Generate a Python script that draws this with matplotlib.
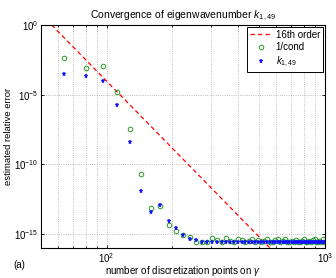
import matplotlib.pyplot as plt
from matplotlib.ticker import FixedLocator, LogLocator, NullLocator
import numpy as np

plt.rcParams['font.family'] = ['Liberation Sans', 'DejaVu Sans']
plt.rcParams['mathtext.fontset'] = 'custom'
plt.rcParams['mathtext.rm'] = 'Liberation Sans'
plt.rcParams['mathtext.it'] = 'Liberation Sans:italic'

# number of discretization points
N = [64, 80, 96, 112, 128, 144, 160, 176, 192, 208, 224, 240, 256, 272, 288,
     304, 320, 336, 352, 368, 384, 400, 416, 432, 448, 464, 480, 496, 512,
     528, 544, 560, 576, 592, 608, 624, 640, 656, 672, 688, 704, 720, 736,
     752, 768, 784, 800, 816, 832, 848, 864, 880, 896, 912, 928, 944, 960,
     976, 992]

# log10 of 1/cond
cond_log = [-2.36, -3.12, -2.95, -4.81, -7.45, -10.66, -13.16, -13.0, -14.36,
            -14.79, -15.07, -15.24, -15.59, -15.59, -15.55, -15.29, -15.41,
            -15.55, -15.3, -15.5, -15.58, -15.35, -15.45, -15.57, -15.5,
            -15.33, -15.56, -15.4, -15.58, -15.5, -15.35, -15.55, -15.58,
            -15.45, -15.38, -15.57, -15.52, -15.35, -15.56, -15.58, -15.48,
            -15.56, -15.4, -15.57, -15.58, -15.5, -15.36, -15.56, -15.58,
            -15.5, -15.57, -15.4, -15.35, -15.56, -15.58, -15.5, -15.57,
            -15.38, -15.56]

# log10 of error in k_{1,49}
k_log = [-3.55, -3.66, -4.02, -5.74, -8.41, -11.93, -13.43, -12.91, -14.07,
         -14.59, -15.07, -15.36, -15.43, -15.57, -15.57, -15.57, -15.57,
         -15.57, -15.57, -15.57, -15.57, -15.57, -15.57, -15.57, -15.57,
         -15.57, -15.57, -15.57, -15.57, -15.57, -15.57, -15.57, -15.57,
         -15.57, -15.57, -15.57, -15.57, -15.57, -15.57, -15.57, -15.57,
         -15.57, -15.57, -15.57, -15.57, -15.57, -15.57, -15.57, -15.57,
         -15.57, -15.57, -15.57, -15.57, -15.57, -15.57, -15.57, -15.57,
         -15.57, -15.57]

order = 16
ref_N = [50, 1000]
ref_C = 10 ** 27.97

fig = plt.figure(figsize=(3.36, 2.78), dpi=100)
ax = fig.add_axes([0.122, 0.108, 0.845, 0.802])

nn = np.array(ref_N, dtype=float)
ax.loglog(nn, ref_C * nn ** (-order), '--', color='#ff0000', lw=0.9,
          dashes=(3.5, 2.5), label='16th order')
ax.loglog(N, 10 ** np.array(cond_log), 'o', mfc='none', mec='#2a9a2a',
          ms=3.3, mew=0.7, label='1/cond')
ax.loglog(N, 10 ** np.array(k_log), '*', color='#1010ff', ms=3.6,
          mew=0.3, label='$k_{1,49}$')

ax.set_xlim(50, 1000)
ax.set_ylim(1e-16, 1e0)
ax.yaxis.set_major_locator(FixedLocator([1e0, 1e-5, 1e-10, 1e-15]))
ax.yaxis.set_minor_locator(NullLocator())
ax.xaxis.set_major_locator(FixedLocator([1e2, 1e3]))
ax.xaxis.set_minor_locator(LogLocator(base=10, subs=np.arange(2, 10)))

ax.grid(True, which='major', axis='both', ls=':', color='#aaaaaa', lw=0.6)
ax.grid(True, which='minor', axis='x', ls=':', color='#aaaaaa', lw=0.6)
ax.tick_params(which='both', direction='in', top=True, right=True,
               labelsize=7, length=2.5, width=0.6, pad=2)
ax.tick_params(which='minor', length=1.5)
for s in ax.spines.values():
    s.set_linewidth(0.8)

ax.set_title('Convergence of eigenwavenumber $k_{1,49}$', fontsize=7.5, pad=5)
ax.set_xlabel('number of discretization points on $\\gamma$', fontsize=7,
              labelpad=0)
ax.set_ylabel('estimated relative error', fontsize=6.8, labelpad=0)
ax.xaxis.set_label_coords(0.5, -0.07)
ax.yaxis.set_label_coords(-0.1, 0.5)
leg = ax.legend(loc='upper right', fontsize=7, fancybox=False,
                edgecolor='black', framealpha=1, borderaxespad=0.2,
                handlelength=2.2, handletextpad=0.4, labelspacing=0.25,
                borderpad=0.3)
leg.get_frame().set_linewidth(0.7)
fig.text(0.04, 0.035, '(a)', fontsize=7)

fig.savefig('out.png', dpi=100)
